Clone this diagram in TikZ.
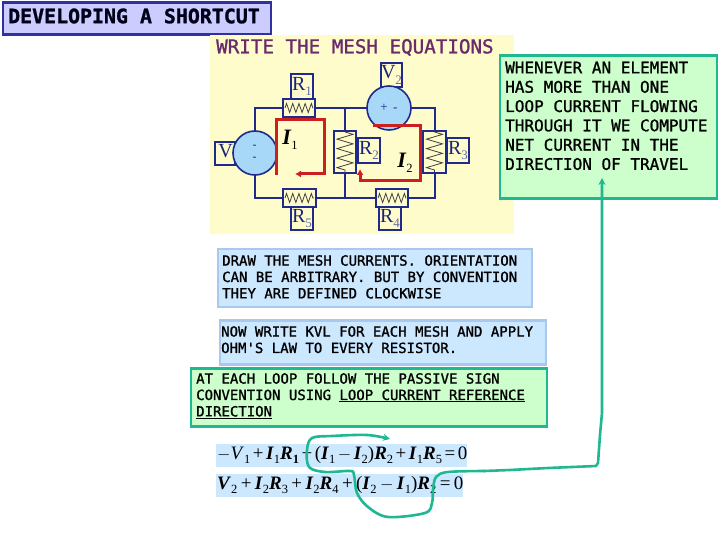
\documentclass[tikz,border=0pt]{standalone}
\usepackage{fontspec}
\setmainfont{Liberation Serif}
\setmonofont{DejaVu Sans Mono}[FakeBold=1.2]
\usetikzlibrary{arrows.meta,decorations.pathmorphing}
\definecolor{wire}{HTML}{1F2A8A}
\definecolor{redl}{HTML}{CC2020}
\definecolor{teal2}{HTML}{20B890}
\definecolor{paleblue}{HTML}{CCE8FF}
\definecolor{blueedge}{HTML}{A8C8F0}
\definecolor{palegreen}{HTML}{CCFFCC}
\definecolor{paleyellow}{HTML}{FFFCCC}
\definecolor{circfill}{HTML}{A8D8F8}
\definecolor{titlefill}{HTML}{CCCCFF}
\definecolor{titleedge}{HTML}{3030A0}
\definecolor{purp}{HTML}{6B2A6B}
\newcommand{\bi}[1]{\textbf{\textit{#1}}}
\newcommand{\sbs}[1]{\raisebox{-0.25em}{\fontsize{12.5}{12.5}\selectfont #1}}
\newcommand{\boldsbs}[1]{\raisebox{-0.25em}{\fontsize{12.5}{12.5}\selectfont\textbf{#1}}}
\newcommand{\rsub}[1]{\raisebox{-0.28em}{\fontsize{13}{13}\selectfont\color{wire!70!white}#1}}
\newcommand{\gapa}{\hspace{2.5pt}}
\newcommand{\gapb}{\hspace{3.4pt}}
\tikzset{
 x=1pt,y=-1pt,
 textbox/.style={font=\ttfamily\fontsize{14}{16.4}\selectfont,align=left,anchor=north west,inner sep=0pt},
 rlabel/.style={draw=wire,line width=1.5pt,fill=paleyellow,anchor=center,inner sep=0pt,font=\fontsize{20}{20}\selectfont,text=wire!85!black},
 rbox/.style={draw=wire,line width=1.5pt,fill=paleyellow},
 wireline/.style={draw=wire,line width=1.5pt},
 zig/.style={draw=black!75,line width=.8pt,decorate,decoration={zigzag,segment length=6.2pt,amplitude=4.5pt}},
 zigv/.style={draw=black!75,line width=.8pt,decorate,decoration={zigzag,segment length=9.5pt,amplitude=8pt}},
 meshline/.style={draw=redl,line width=3pt},
 meshlabel/.style={font=\fontsize{22}{22}\selectfont,inner sep=0pt},
 hand/.style={draw=teal2,line width=2.6pt,line cap=round,line join=round},
 eqn/.style={font=\fontsize{19}{19}\selectfont,inner sep=0pt,anchor=west},
 src/.style={draw=wire,line width=1.6pt,fill=circfill,circle,minimum size=44pt,inner sep=0pt}
}
\begin{document}
\begin{tikzpicture}
\useasboundingbox (0,0) rectangle (720,540);
\fill[white] (0,0) rectangle (720,540);
% title
\node[draw=titleedge,line width=2.6pt,fill=titlefill,minimum width=268pt,minimum height=32pt,inner sep=0pt,anchor=north west] (title) at (1.5,1.5) {};
\node[font=\ttfamily\bfseries\fontsize{19.9}{20}\selectfont,text=black!90!blue,anchor=west,inner sep=0pt] (titletext) at (8,16) {DEVELOPING A SHORTCUT};
% yellow panel
\fill[paleyellow] (210,35) rectangle (514,234);
\node[font=\ttfamily\fontsize{19.2}{20}\selectfont,text=purp,anchor=west,inner sep=0pt] (head) at (216,47.5) {WRITE THE MESH EQUATIONS};
% wires
\draw[wireline] (255,108) -- (435,108) -- (435,198) -- (255,198) -- cycle;
\draw[wireline] (345,108) -- (345,198);
% resistors
\draw[rbox] (283,99) rectangle (315,117);
\draw[zig] (285,108) -- (313,108);
\draw[rbox] (283,189) rectangle (316,207);
\draw[zig] (285,198) -- (314,198);
\draw[rbox] (376,189) rectangle (408,207);
\draw[zig] (378,198) -- (406,198);
\draw[rbox] (334,131) rectangle (356,173);
\draw[zigv] (345,132) -- (345,172);
\draw[rbox] (423,131) rectangle (446,173);
\draw[zigv] (434.5,132) -- (434.5,172);
% labels of resistors
\node[rlabel,minimum width=22pt,minimum height=25pt] (r1) at (302,86.5) {R\rsub{1}};
\node[rlabel,minimum width=22pt,minimum height=23pt] (r5) at (302,218.5) {R\rsub{5}};
\node[rlabel,minimum width=22pt,minimum height=23pt] (r4) at (390,218.5) {R\rsub{4}};
\node[rlabel,minimum width=22pt,minimum height=25pt] (r2) at (369,150.5) {R\rsub{2}};
\node[rlabel,minimum width=22pt,minimum height=25pt] (r3) at (458,150.5) {R\rsub{3}};
\node[rlabel,minimum width=20pt,minimum height=23pt,text width=20pt,align=left] (v1) at (225,153.5) {\,V\rsub{1}};
\node[rlabel,minimum width=21pt,minimum height=24pt] (v2) at (391.5,75) {V\rsub{2}};
% sources
\node[src] (s1) at (255,153) {};
\node[font=\fontsize{12}{12}\selectfont,align=center,inner sep=0pt,text=wire] (s1t) at (254.5,153) {-\\-};
\node[src] (s2) at (389,108) {};
\node[font=\fontsize{13}{13}\selectfont,inner sep=0pt,text=wire] (s2t) at (389,108) {+ \,-};
% mesh currents
\draw[meshline,-{Latex[length=6pt,width=7pt]}] (276,175) -- (276,120) -- (324,120) -- (324,174) -- (295,174);
\draw[meshline,-{Latex[length=6pt,width=7pt]}] (373,126) -- (420,126) -- (420,181) -- (360,181) -- (360,169);
\node[meshlabel] (i1) at (290,140) {\bi{I}\sbs{1}};
\node[meshlabel] (i2) at (405,163) {\bi{I}\sbs{2}};
% right box
\node[draw=teal2,line width=2.6pt,fill=palegreen,minimum width=217pt,minimum height=143pt,inner sep=0pt,anchor=north west] (note) at (498.5,54.5) {};
\node[textbox,font=\ttfamily\fontsize{16}{19.3}\selectfont,align=left] (notetext) at (505,61.5) {WHENEVER AN ELEMENT\\HAS MORE THAN ONE\\LOOP CURRENT FLOWING\\THROUGH IT WE COMPUTE\\NET CURRENT IN THE\\DIRECTION OF TRAVEL};
% steps
\node[draw=blueedge,line width=2.6pt,fill=paleblue,minimum width=314pt,minimum height=58pt,inner sep=0pt,anchor=north west] (b1) at (216.5,247.5) {};
\node[textbox] (b1t) at (222,255) {DRAW THE MESH CURRENTS. ORIENTATION\\CAN BE ARBITRARY. BUT BY CONVENTION\\THEY ARE DEFINED CLOCKWISE};
\node[draw=blueedge,line width=2.6pt,fill=paleblue,minimum width=326pt,minimum height=44pt,inner sep=0pt,anchor=north west] (b2) at (218.5,319) {};
\node[textbox] (b2t) at (221,326) {NOW WRITE KVL FOR EACH MESH AND APPLY\\OHM'S LAW TO EVERY RESISTOR.};
\node[draw=teal2,line width=2.6pt,fill=palegreen,minimum width=356pt,minimum height=58pt,inner sep=0pt,anchor=north west] (b3) at (189.5,367) {};
\node[textbox] (b3t) at (196,373) {AT EACH LOOP FOLLOW THE PASSIVE SIGN\\CONVENTION USING \underline{LOOP CURRENT REFERENCE}\\\underline{DIRECTION}};
% equations
\fill[paleblue] (216,444) rectangle (467,467);
\fill[paleblue] (216,474) rectangle (463,497);
\node[eqn] (eq1) at (217,455) {$-$\textit{V}\sbs{1}\gapa+\gapa\bi{I}\sbs{1}\bi{R}\boldsbs{1}\gapa+\gapa(\bi{I}\sbs{1}\gapa$-$\gapa\bi{I}\sbs{2})\bi{R}\sbs{2}\gapa+\gapa\bi{I}\sbs{1}\bi{R}\sbs{5}\gapa=\gapa0};
\node[eqn] (eq2) at (217,485) {\bi{V}\sbs{2}\gapb+\gapb\bi{I}\sbs{2}\bi{R}\sbs{3}\gapb+\gapb\bi{I}\sbs{2}\bi{R}\sbs{4}\gapb+\gapb(\bi{I}\sbs{2}\gapb$-$\gapb\bi{I}\sbs{1})\bi{R}\sbs{2}\gapb=\gapb0};
% hand-drawn loop
\draw[hand,-{Stealth[length=7pt,width=7pt]}] plot[smooth,tension=.55] coordinates {(485,471) (448,472) (436,477) (433,490) (432,503) (425,513) (388,517) (368,507) (357,493) (354,475) (350,471) (325,472) (309,467) (307,450) (312,438) (332,436) (367,435) (390,439)};
\draw[hand,-{Stealth[length=7pt,width=7pt]}] (484,471) -- (510,470) -- (548,468) -- (596,466) -- (598,463) -- (600,435) -- (602,413) -- (602,178);
\end{tikzpicture}
\end{document}
